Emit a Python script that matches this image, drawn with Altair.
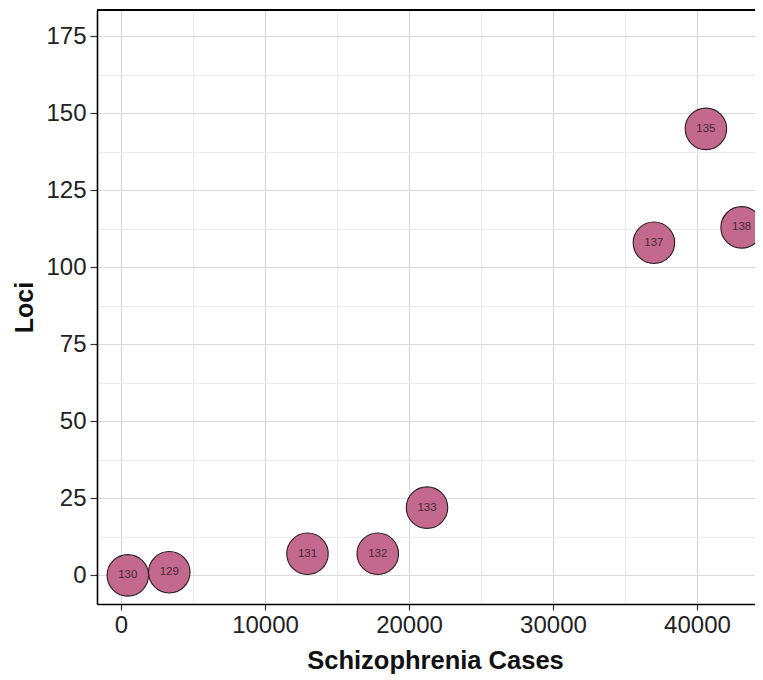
import altair as alt
import pandas as pd

# data
study_ids = ["130", "129", "131", "132", "133", "135", "137", "138"]
cases = [470, 3350, 12950, 17830, 21250, 40620, 37010, 43100]
loci = [0, 1, 7, 7, 22, 145, 108, 113]

x_major = [0, 10000, 20000, 30000, 40000]
x_minor = [5000, 15000, 25000, 35000]
y_major = [0, 25, 50, 75, 100, 125, 150, 175]
y_minor = [12.5, 37.5, 62.5, 87.5, 112.5, 137.5, 162.5]

W, H = 658, 594
X_DOMAIN = [-1670, 44030]
Y_DOMAIN = [-9.3, 183.6]
FONT = "Liberation Sans"

df = pd.DataFrame({"id": study_ids, "cases": cases, "loci": loci})
xs = alt.Scale(domain=X_DOMAIN, nice=False, zero=False)
ys = alt.Scale(domain=Y_DOMAIN, nice=False, zero=False)

X_MAJ = "datum.value % 10000 === 0"
Y_MAJ = "datum.value % 25 === 0"


def cond(test, a, b):
    return {"condition": {"test": test, "value": a}, "value": b}


x_axis = alt.Axis(orient="bottom", values=sorted(x_major + x_minor), format="d",
                  labelExpr=f"{X_MAJ} ? datum.label : ''",
                  title="Schizophrenia Cases",
                  grid=True, gridColor=cond(X_MAJ, "#d9d9d9", "#e9e9e9"),
                  gridWidth=cond(X_MAJ, 1.2, 0.9),
                  labelFontSize=24, labelColor="#222222", labelFont=FONT,
                  tickColor="#333333", tickSize=6, tickWidth=1.2,
                  tickOpacity=cond(X_MAJ, 1, 0), labelPadding=3,
                  domainColor="black", domainWidth=1.6,
                  titleFont=FONT, titleFontSize=25.5, titleFontWeight="bold",
                  titleColor="#111111", titleX=338, titleY=64,
                  titleBaseline="alphabetic", titleAnchor="middle",
                  labelFlush=False)
y_axis = alt.Axis(orient="left", values=sorted(y_major + y_minor), format="d",
                  labelExpr=f"{Y_MAJ} ? datum.label : ''",
                  title="Loci",
                  grid=True, gridColor=cond(Y_MAJ, "#d9d9d9", "#e9e9e9"),
                  gridWidth=cond(Y_MAJ, 1.2, 0.9),
                  labelFontSize=24, labelColor="#222222", labelFont=FONT,
                  tickColor="#333333", tickSize=7, tickWidth=1.2,
                  tickOpacity=cond(Y_MAJ, 1, 0), labelPadding=4,
                  domainColor="black", domainWidth=1.6,
                  titleFont=FONT, titleFontSize=25, titleFontWeight="bold",
                  titleColor="#111111", titleX=-73, titleY=H / 2,
                  titleAngle=270, titleBaseline="middle", titleAnchor="middle",
                  labelFlush=False)

points = alt.Chart(df).mark_circle(size=1720, opacity=1, stroke="#2a1a22",
                                   strokeWidth=1.1, color="#c2698d").encode(
    x=alt.X("cases:Q", scale=xs, axis=x_axis),
    y=alt.Y("loci:Q", scale=ys, axis=y_axis),
)

labels = alt.Chart(df).mark_text(fontSize=11.5, font=FONT, color="#4a2838").encode(
    x=alt.X("cases:Q", scale=xs, axis=x_axis),
    y=alt.Y("loci:Q", scale=ys, axis=y_axis),
    text="id:N",
)

top_border = alt.Chart(df).mark_rule(color="black", strokeWidth=1.6).encode(
    x=alt.value(0), x2=alt.value(W), y=alt.value(0)
)

chart = alt.layer(points, labels, top_border).properties(
    width=W, height=H,
    autosize=alt.AutoSizeParams(type="none"),
    padding={"left": 89, "top": 2, "right": 0, "bottom": 70},
).configure(background="white").configure_view(stroke="transparent", strokeWidth=0)

chart.save("out.html", embed_options={"renderer": "svg", "actions": False})
